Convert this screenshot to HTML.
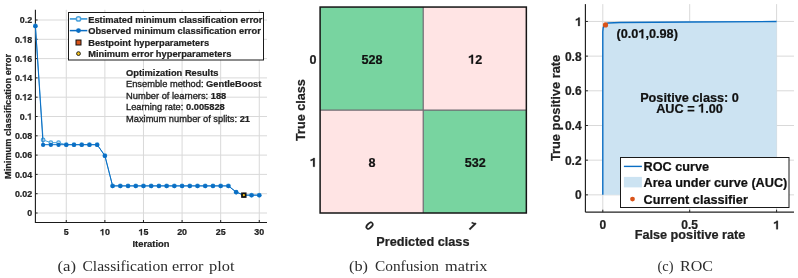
<!DOCTYPE html>
<html><head><meta charset="utf-8"><style>
html,body{margin:0;padding:0;background:#fff;}
svg{display:block;}
</style></head><body>
<svg width="798" height="278" viewBox="0 0 798 278">
<rect width="798" height="278" fill="#fff"/>
<defs><filter id="bl" x="0" y="0" width="100%" height="100%" color-interpolation-filters="sRGB"><feGaussianBlur stdDeviation="0.4"/></filter></defs>
<g filter="url(#bl)">
<rect width="798" height="278" fill="#fff"/>
<line x1="66.28" y1="9.8" x2="66.28" y2="222.5" stroke="#d9d9d9" stroke-width="1"/>
<line x1="104.88" y1="9.8" x2="104.88" y2="222.5" stroke="#d9d9d9" stroke-width="1"/>
<line x1="143.48" y1="9.8" x2="143.48" y2="222.5" stroke="#d9d9d9" stroke-width="1"/>
<line x1="182.08" y1="9.8" x2="182.08" y2="222.5" stroke="#d9d9d9" stroke-width="1"/>
<line x1="220.68" y1="9.8" x2="220.68" y2="222.5" stroke="#d9d9d9" stroke-width="1"/>
<line x1="259.28" y1="9.8" x2="259.28" y2="222.5" stroke="#d9d9d9" stroke-width="1"/>
<line x1="35.1" y1="213.00" x2="267.0" y2="213.00" stroke="#d9d9d9" stroke-width="1"/>
<line x1="35.1" y1="193.70" x2="267.0" y2="193.70" stroke="#d9d9d9" stroke-width="1"/>
<line x1="35.1" y1="174.40" x2="267.0" y2="174.40" stroke="#d9d9d9" stroke-width="1"/>
<line x1="35.1" y1="155.10" x2="267.0" y2="155.10" stroke="#d9d9d9" stroke-width="1"/>
<line x1="35.1" y1="135.80" x2="267.0" y2="135.80" stroke="#d9d9d9" stroke-width="1"/>
<line x1="35.1" y1="116.50" x2="267.0" y2="116.50" stroke="#d9d9d9" stroke-width="1"/>
<line x1="35.1" y1="97.20" x2="267.0" y2="97.20" stroke="#d9d9d9" stroke-width="1"/>
<line x1="35.1" y1="77.90" x2="267.0" y2="77.90" stroke="#d9d9d9" stroke-width="1"/>
<line x1="35.1" y1="58.60" x2="267.0" y2="58.60" stroke="#d9d9d9" stroke-width="1"/>
<line x1="35.1" y1="39.30" x2="267.0" y2="39.30" stroke="#d9d9d9" stroke-width="1"/>
<line x1="35.1" y1="20.00" x2="267.0" y2="20.00" stroke="#d9d9d9" stroke-width="1"/>
<line x1="35.4" y1="9.8" x2="35.4" y2="223.05" stroke="#1a1a1a" stroke-width="1.1"/>
<line x1="35.4" y1="222.5" x2="267.0" y2="222.5" stroke="#1a1a1a" stroke-width="1.1"/>
<line x1="66.28" y1="222.5" x2="66.28" y2="220.0" stroke="#222222" stroke-width="1"/>
<text stroke="#222222" stroke-width="0.22" x="63.81" y="235.30" font-family="Liberation Sans, sans-serif" font-weight="bold" font-size="8.9" fill="#222222" >5</text>
<line x1="104.88" y1="222.5" x2="104.88" y2="220.0" stroke="#222222" stroke-width="1"/>
<path d="M103.37,235.30 L103.37,229.02 L102.39,229.02 C102.17,229.50 101.53,229.94 100.43,230.21 L100.43,231.25 C101.18,231.07 101.71,230.81 102.16,230.45 L102.16,235.30 Z" fill="#222222" stroke="#222222" stroke-width="0.22"/>
<text stroke="#222222" stroke-width="0.22" x="104.88" y="235.30" font-family="Liberation Sans, sans-serif" font-weight="bold" font-size="8.9" fill="#222222" >0</text>
<line x1="143.48" y1="222.5" x2="143.48" y2="220.0" stroke="#222222" stroke-width="1"/>
<path d="M141.97,235.30 L141.97,229.02 L140.99,229.02 C140.77,229.50 140.13,229.94 139.03,230.21 L139.03,231.25 C139.78,231.07 140.31,230.81 140.76,230.45 L140.76,235.30 Z" fill="#222222" stroke="#222222" stroke-width="0.22"/>
<text stroke="#222222" stroke-width="0.22" x="143.48" y="235.30" font-family="Liberation Sans, sans-serif" font-weight="bold" font-size="8.9" fill="#222222" >5</text>
<line x1="182.08" y1="222.5" x2="182.08" y2="220.0" stroke="#222222" stroke-width="1"/>
<text stroke="#222222" stroke-width="0.22" x="177.13" y="235.30" font-family="Liberation Sans, sans-serif" font-weight="bold" font-size="8.9" fill="#222222" >20</text>
<line x1="220.68" y1="222.5" x2="220.68" y2="220.0" stroke="#222222" stroke-width="1"/>
<text stroke="#222222" stroke-width="0.22" x="215.73" y="235.30" font-family="Liberation Sans, sans-serif" font-weight="bold" font-size="8.9" fill="#222222" >25</text>
<line x1="259.28" y1="222.5" x2="259.28" y2="220.0" stroke="#222222" stroke-width="1"/>
<text stroke="#222222" stroke-width="0.22" x="254.33" y="235.30" font-family="Liberation Sans, sans-serif" font-weight="bold" font-size="8.9" fill="#222222" >30</text>
<line x1="35.1" y1="213.00" x2="37.6" y2="213.00" stroke="#222222" stroke-width="1"/>
<text stroke="#222222" stroke-width="0.22" x="27.25" y="216.20" font-family="Liberation Sans, sans-serif" font-weight="bold" font-size="8.9" fill="#222222" >0</text>
<line x1="35.1" y1="193.70" x2="37.6" y2="193.70" stroke="#222222" stroke-width="1"/>
<text stroke="#222222" stroke-width="0.22" x="14.88" y="196.90" font-family="Liberation Sans, sans-serif" font-weight="bold" font-size="8.9" fill="#222222" >0.02</text>
<line x1="35.1" y1="174.40" x2="37.6" y2="174.40" stroke="#222222" stroke-width="1"/>
<text stroke="#222222" stroke-width="0.22" x="14.88" y="177.60" font-family="Liberation Sans, sans-serif" font-weight="bold" font-size="8.9" fill="#222222" >0.04</text>
<line x1="35.1" y1="155.10" x2="37.6" y2="155.10" stroke="#222222" stroke-width="1"/>
<text stroke="#222222" stroke-width="0.22" x="14.88" y="158.30" font-family="Liberation Sans, sans-serif" font-weight="bold" font-size="8.9" fill="#222222" >0.06</text>
<line x1="35.1" y1="135.80" x2="37.6" y2="135.80" stroke="#222222" stroke-width="1"/>
<text stroke="#222222" stroke-width="0.22" x="14.88" y="139.00" font-family="Liberation Sans, sans-serif" font-weight="bold" font-size="8.9" fill="#222222" >0.08</text>
<line x1="35.1" y1="116.50" x2="37.6" y2="116.50" stroke="#222222" stroke-width="1"/>
<text stroke="#222222" stroke-width="0.22" x="19.83" y="119.70" font-family="Liberation Sans, sans-serif" font-weight="bold" font-size="8.9" fill="#222222" >0.</text>
<path d="M30.69,119.70 L30.69,113.42 L29.71,113.42 C29.49,113.90 28.85,114.34 27.75,114.61 L27.75,115.65 C28.50,115.47 29.03,115.21 29.48,114.85 L29.48,119.70 Z" fill="#222222" stroke="#222222" stroke-width="0.22"/>
<line x1="35.1" y1="97.20" x2="37.6" y2="97.20" stroke="#222222" stroke-width="1"/>
<text stroke="#222222" stroke-width="0.22" x="14.88" y="100.40" font-family="Liberation Sans, sans-serif" font-weight="bold" font-size="8.9" fill="#222222" >0.</text>
<path d="M25.74,100.40 L25.74,94.12 L24.76,94.12 C24.54,94.60 23.90,95.04 22.80,95.31 L22.80,96.35 C23.55,96.17 24.08,95.91 24.53,95.55 L24.53,100.40 Z" fill="#222222" stroke="#222222" stroke-width="0.22"/>
<text stroke="#222222" stroke-width="0.22" x="27.25" y="100.40" font-family="Liberation Sans, sans-serif" font-weight="bold" font-size="8.9" fill="#222222" >2</text>
<line x1="35.1" y1="77.90" x2="37.6" y2="77.90" stroke="#222222" stroke-width="1"/>
<text stroke="#222222" stroke-width="0.22" x="14.88" y="81.10" font-family="Liberation Sans, sans-serif" font-weight="bold" font-size="8.9" fill="#222222" >0.</text>
<path d="M25.74,81.10 L25.74,74.82 L24.76,74.82 C24.54,75.30 23.90,75.74 22.80,76.01 L22.80,77.05 C23.55,76.87 24.08,76.61 24.53,76.25 L24.53,81.10 Z" fill="#222222" stroke="#222222" stroke-width="0.22"/>
<text stroke="#222222" stroke-width="0.22" x="27.25" y="81.10" font-family="Liberation Sans, sans-serif" font-weight="bold" font-size="8.9" fill="#222222" >4</text>
<line x1="35.1" y1="58.60" x2="37.6" y2="58.60" stroke="#222222" stroke-width="1"/>
<text stroke="#222222" stroke-width="0.22" x="14.88" y="61.80" font-family="Liberation Sans, sans-serif" font-weight="bold" font-size="8.9" fill="#222222" >0.</text>
<path d="M25.74,61.80 L25.74,55.52 L24.76,55.52 C24.54,56.00 23.90,56.44 22.80,56.71 L22.80,57.75 C23.55,57.57 24.08,57.31 24.53,56.95 L24.53,61.80 Z" fill="#222222" stroke="#222222" stroke-width="0.22"/>
<text stroke="#222222" stroke-width="0.22" x="27.25" y="61.80" font-family="Liberation Sans, sans-serif" font-weight="bold" font-size="8.9" fill="#222222" >6</text>
<line x1="35.1" y1="39.30" x2="37.6" y2="39.30" stroke="#222222" stroke-width="1"/>
<text stroke="#222222" stroke-width="0.22" x="14.88" y="42.50" font-family="Liberation Sans, sans-serif" font-weight="bold" font-size="8.9" fill="#222222" >0.</text>
<path d="M25.74,42.50 L25.74,36.22 L24.76,36.22 C24.54,36.70 23.90,37.14 22.80,37.41 L22.80,38.45 C23.55,38.27 24.08,38.01 24.53,37.65 L24.53,42.50 Z" fill="#222222" stroke="#222222" stroke-width="0.22"/>
<text stroke="#222222" stroke-width="0.22" x="27.25" y="42.50" font-family="Liberation Sans, sans-serif" font-weight="bold" font-size="8.9" fill="#222222" >8</text>
<line x1="35.1" y1="20.00" x2="37.6" y2="20.00" stroke="#222222" stroke-width="1"/>
<text stroke="#222222" stroke-width="0.22" x="19.83" y="23.20" font-family="Liberation Sans, sans-serif" font-weight="bold" font-size="8.9" fill="#222222" >0.2</text>
<text stroke="#222222" stroke-width="0.22" x="151" y="246.7" font-family="Liberation Sans, sans-serif" font-weight="bold" font-size="9.4" fill="#222222" text-anchor="middle">Iteration</text>
<text stroke="#222222" stroke-width="0.22" transform="translate(11.3,116.4) rotate(-90)" x="0" y="0" font-family="Liberation Sans, sans-serif" font-weight="bold" font-size="9.2" fill="#222222" text-anchor="middle">Minimum classification error</text>
<text stroke="#222222" stroke-width="0.22" x="126.0" y="75.6" font-family="Liberation Sans, sans-serif" font-weight="bold" font-size="9.3" fill="#222222">Optimization Results</text>
<text stroke="#222222" stroke-width="0.32" x="126.0" y="87.2" font-family="Liberation Sans, sans-serif" font-size="9.3" fill="#222222">Ensemble method: <tspan font-weight="bold" stroke-width="0.22">GentleBoost</tspan></text>
<text stroke="#222222" stroke-width="0.32" x="126.0" y="98.7" font-family="Liberation Sans, sans-serif" font-size="9.3" fill="#222222">Number of learners: <tspan font-weight="bold" stroke-width="0.22">188</tspan></text>
<text stroke="#222222" stroke-width="0.32" x="126.0" y="110.3" font-family="Liberation Sans, sans-serif" font-size="9.3" fill="#222222">Learning rate: <tspan font-weight="bold" stroke-width="0.22">0.005828</tspan></text>
<text stroke="#222222" stroke-width="0.32" x="126.0" y="121.9" font-family="Liberation Sans, sans-serif" font-size="9.3" fill="#222222">Maximum number of splits: <tspan font-weight="bold" stroke-width="0.22">21</tspan></text>
<polyline points="35.40,25.98 43.12,139.95 50.84,142.65 58.56,142.65 66.28,144.68 74.00,144.68 81.72,144.68 89.44,144.68 97.16,144.68 104.88,155.68 112.60,185.88 120.32,185.88 128.04,185.88 135.76,185.88 143.48,185.88 151.20,185.88 158.92,185.88 166.64,185.88 174.36,185.88 182.08,185.88 189.80,185.88 197.52,185.88 205.24,185.88 212.96,185.88 220.68,185.88 228.40,185.88 236.12,192.06 243.84,195.15 251.56,195.15 259.28,195.15" fill="none" stroke="#4DA3DC" stroke-width="1"/>
<circle cx="35.40" cy="25.98" r="1.8" fill="#d4e9f8" stroke="#4DA3DC" stroke-width="1.2"/>
<circle cx="43.12" cy="139.95" r="1.8" fill="#d4e9f8" stroke="#4DA3DC" stroke-width="1.2"/>
<circle cx="50.84" cy="142.65" r="1.8" fill="#d4e9f8" stroke="#4DA3DC" stroke-width="1.2"/>
<circle cx="58.56" cy="142.65" r="1.8" fill="#d4e9f8" stroke="#4DA3DC" stroke-width="1.2"/>
<circle cx="66.28" cy="144.68" r="1.8" fill="#d4e9f8" stroke="#4DA3DC" stroke-width="1.2"/>
<circle cx="74.00" cy="144.68" r="1.8" fill="#d4e9f8" stroke="#4DA3DC" stroke-width="1.2"/>
<circle cx="81.72" cy="144.68" r="1.8" fill="#d4e9f8" stroke="#4DA3DC" stroke-width="1.2"/>
<circle cx="89.44" cy="144.68" r="1.8" fill="#d4e9f8" stroke="#4DA3DC" stroke-width="1.2"/>
<circle cx="97.16" cy="144.68" r="1.8" fill="#d4e9f8" stroke="#4DA3DC" stroke-width="1.2"/>
<circle cx="104.88" cy="155.68" r="1.8" fill="#d4e9f8" stroke="#4DA3DC" stroke-width="1.2"/>
<circle cx="112.60" cy="185.88" r="1.8" fill="#d4e9f8" stroke="#4DA3DC" stroke-width="1.2"/>
<circle cx="120.32" cy="185.88" r="1.8" fill="#d4e9f8" stroke="#4DA3DC" stroke-width="1.2"/>
<circle cx="128.04" cy="185.88" r="1.8" fill="#d4e9f8" stroke="#4DA3DC" stroke-width="1.2"/>
<circle cx="135.76" cy="185.88" r="1.8" fill="#d4e9f8" stroke="#4DA3DC" stroke-width="1.2"/>
<circle cx="143.48" cy="185.88" r="1.8" fill="#d4e9f8" stroke="#4DA3DC" stroke-width="1.2"/>
<circle cx="151.20" cy="185.88" r="1.8" fill="#d4e9f8" stroke="#4DA3DC" stroke-width="1.2"/>
<circle cx="158.92" cy="185.88" r="1.8" fill="#d4e9f8" stroke="#4DA3DC" stroke-width="1.2"/>
<circle cx="166.64" cy="185.88" r="1.8" fill="#d4e9f8" stroke="#4DA3DC" stroke-width="1.2"/>
<circle cx="174.36" cy="185.88" r="1.8" fill="#d4e9f8" stroke="#4DA3DC" stroke-width="1.2"/>
<circle cx="182.08" cy="185.88" r="1.8" fill="#d4e9f8" stroke="#4DA3DC" stroke-width="1.2"/>
<circle cx="189.80" cy="185.88" r="1.8" fill="#d4e9f8" stroke="#4DA3DC" stroke-width="1.2"/>
<circle cx="197.52" cy="185.88" r="1.8" fill="#d4e9f8" stroke="#4DA3DC" stroke-width="1.2"/>
<circle cx="205.24" cy="185.88" r="1.8" fill="#d4e9f8" stroke="#4DA3DC" stroke-width="1.2"/>
<circle cx="212.96" cy="185.88" r="1.8" fill="#d4e9f8" stroke="#4DA3DC" stroke-width="1.2"/>
<circle cx="220.68" cy="185.88" r="1.8" fill="#d4e9f8" stroke="#4DA3DC" stroke-width="1.2"/>
<circle cx="228.40" cy="185.88" r="1.8" fill="#d4e9f8" stroke="#4DA3DC" stroke-width="1.2"/>
<circle cx="236.12" cy="192.06" r="1.8" fill="#d4e9f8" stroke="#4DA3DC" stroke-width="1.2"/>
<circle cx="243.84" cy="195.15" r="1.8" fill="#d4e9f8" stroke="#4DA3DC" stroke-width="1.2"/>
<circle cx="251.56" cy="195.15" r="1.8" fill="#d4e9f8" stroke="#4DA3DC" stroke-width="1.2"/>
<circle cx="259.28" cy="195.15" r="1.8" fill="#d4e9f8" stroke="#4DA3DC" stroke-width="1.2"/>
<polyline points="35.40,25.98 43.12,144.68 50.84,144.68 58.56,144.68 66.28,144.68 74.00,144.68 81.72,144.68 89.44,144.68 97.16,144.68 104.88,155.68 112.60,185.88 120.32,185.88 128.04,185.88 135.76,185.88 143.48,185.88 151.20,185.88 158.92,185.88 166.64,185.88 174.36,185.88 182.08,185.88 189.80,185.88 197.52,185.88 205.24,185.88 212.96,185.88 220.68,185.88 228.40,185.88 236.12,192.06 243.84,195.15 251.56,195.15 259.28,195.15" fill="none" stroke="#0A6EC4" stroke-width="1.0"/>
<circle cx="35.40" cy="26.18" r="2.15" fill="#0A6EC4"/>
<circle cx="43.12" cy="144.88" r="2.15" fill="#0A6EC4"/>
<circle cx="50.84" cy="144.88" r="2.15" fill="#0A6EC4"/>
<circle cx="58.56" cy="144.88" r="2.15" fill="#0A6EC4"/>
<circle cx="66.28" cy="144.88" r="2.15" fill="#0A6EC4"/>
<circle cx="74.00" cy="144.88" r="2.15" fill="#0A6EC4"/>
<circle cx="81.72" cy="144.88" r="2.15" fill="#0A6EC4"/>
<circle cx="89.44" cy="144.88" r="2.15" fill="#0A6EC4"/>
<circle cx="97.16" cy="144.88" r="2.15" fill="#0A6EC4"/>
<circle cx="104.88" cy="155.88" r="2.15" fill="#0A6EC4"/>
<circle cx="112.60" cy="186.08" r="2.15" fill="#0A6EC4"/>
<circle cx="120.32" cy="186.08" r="2.15" fill="#0A6EC4"/>
<circle cx="128.04" cy="186.08" r="2.15" fill="#0A6EC4"/>
<circle cx="135.76" cy="186.08" r="2.15" fill="#0A6EC4"/>
<circle cx="143.48" cy="186.08" r="2.15" fill="#0A6EC4"/>
<circle cx="151.20" cy="186.08" r="2.15" fill="#0A6EC4"/>
<circle cx="158.92" cy="186.08" r="2.15" fill="#0A6EC4"/>
<circle cx="166.64" cy="186.08" r="2.15" fill="#0A6EC4"/>
<circle cx="174.36" cy="186.08" r="2.15" fill="#0A6EC4"/>
<circle cx="182.08" cy="186.08" r="2.15" fill="#0A6EC4"/>
<circle cx="189.80" cy="186.08" r="2.15" fill="#0A6EC4"/>
<circle cx="197.52" cy="186.08" r="2.15" fill="#0A6EC4"/>
<circle cx="205.24" cy="186.08" r="2.15" fill="#0A6EC4"/>
<circle cx="212.96" cy="186.08" r="2.15" fill="#0A6EC4"/>
<circle cx="220.68" cy="186.08" r="2.15" fill="#0A6EC4"/>
<circle cx="228.40" cy="186.08" r="2.15" fill="#0A6EC4"/>
<circle cx="236.12" cy="192.26" r="2.15" fill="#0A6EC4"/>
<circle cx="243.84" cy="195.35" r="2.15" fill="#0A6EC4"/>
<circle cx="251.56" cy="195.35" r="2.15" fill="#0A6EC4"/>
<circle cx="259.28" cy="195.35" r="2.15" fill="#0A6EC4"/>
<rect x="241.14" y="192.45" width="5.4" height="5.4" fill="#111"/>
<circle cx="243.84" cy="195.15" r="1.1" fill="#F2C01E"/>
<rect x="68.5" y="12.5" width="195" height="47.5" fill="white" stroke="#1a1a1a" stroke-width="1"/>
<line x1="69.8" y1="18.9" x2="87.3" y2="18.9" stroke="#4DA3DC" stroke-width="1.8"/>
<circle cx="78.5" cy="18.9" r="2.2" fill="#e6f3fc" stroke="#4DA3DC" stroke-width="1.5"/>
<line x1="69.8" y1="30.6" x2="87.3" y2="30.6" stroke="#0A6EC4" stroke-width="1.5"/>
<circle cx="78.5" cy="30.6" r="2.4" fill="#0A6EC4"/>
<rect x="76" y="40.0" width="5" height="5" fill="#D95319" stroke="#111" stroke-width="1"/>
<circle cx="78.5" cy="53.6" r="1.9" fill="#F2C01E" stroke="#111" stroke-width="0.9"/>
<text stroke="#222222" stroke-width="0.22" x="88.2" y="22.599999999999998" font-family="Liberation Sans, sans-serif" font-weight="bold" font-size="9.3" fill="#222222">Estimated minimum classification error</text>
<text stroke="#222222" stroke-width="0.22" x="88.2" y="33.9" font-family="Liberation Sans, sans-serif" font-weight="bold" font-size="9.3" fill="#222222">Observed minimum classification error</text>
<text stroke="#222222" stroke-width="0.22" x="88.2" y="45.8" font-family="Liberation Sans, sans-serif" font-weight="bold" font-size="9.3" fill="#222222">Bestpoint hyperparameters</text>
<text stroke="#222222" stroke-width="0.22" x="88.2" y="56.9" font-family="Liberation Sans, sans-serif" font-weight="bold" font-size="9.3" fill="#222222">Minimum error hyperparameters</text>
<rect x="320.1" y="7.05" width="103.125" height="102.975" fill="#78D4A0"/>
<rect x="423.225" y="7.05" width="103.125" height="102.975" fill="#FFE4E4"/>
<rect x="320.1" y="110.02499999999999" width="103.125" height="102.975" fill="#FFE4E4"/>
<rect x="423.225" y="110.02499999999999" width="103.125" height="102.975" fill="#78D4A0"/>
<line x1="423.225" y1="7.05" x2="423.225" y2="213.0" stroke="#6e6a70" stroke-width="1.2"/>
<line x1="320.1" y1="110.02499999999999" x2="526.35" y2="110.02499999999999" stroke="#6e6a70" stroke-width="1.2"/>
<rect x="320.1" y="7.05" width="206.25" height="205.95" fill="none" stroke="#151515" stroke-width="1.5"/>
<path d="M473.06,63.64 L473.06,54.74 L471.66,54.74 C471.36,55.42 470.45,56.05 468.89,56.43 L468.89,57.90 C469.94,57.65 470.70,57.27 471.33,56.77 L471.33,63.64 Z" fill="#111" stroke="#111" stroke-width="0.22"/>
<text stroke="#111" stroke-width="0.22" x="475.19" y="63.64" font-family="Liberation Sans, sans-serif" font-weight="bold" font-size="12.6" fill="#111" >2</text>
<text stroke="#111" stroke-width="0.22" x="372.06" y="63.64" font-family="Liberation Sans, sans-serif" font-weight="bold" font-size="12.6" fill="#111" text-anchor="middle">528</text>
<text stroke="#111" stroke-width="0.22" x="372.06" y="166.61" font-family="Liberation Sans, sans-serif" font-weight="bold" font-size="12.6" fill="#111" text-anchor="middle">8</text>
<text stroke="#111" stroke-width="0.22" x="475.19" y="166.61" font-family="Liberation Sans, sans-serif" font-weight="bold" font-size="12.6" fill="#111" text-anchor="middle">532</text>
<text stroke="#222222" stroke-width="0.22" x="316.6" y="63.84" font-family="Liberation Sans, sans-serif" font-weight="bold" font-size="12.6" fill="#222222" text-anchor="end">0</text>
<path d="M314.77,166.81 L314.77,157.92 L313.37,157.92 C313.07,158.60 312.16,159.23 310.60,159.61 L310.60,161.08 C311.66,160.83 312.41,160.45 313.04,159.95 L313.04,166.81 Z" fill="#222222" stroke="#222222" stroke-width="0.22"/>
<text stroke="#222222" stroke-width="0.22" transform="translate(305.2,110.05) rotate(-90)" font-family="Liberation Sans, sans-serif" font-weight="bold" font-size="12.65" fill="#222222" text-anchor="middle">True class</text>
<text stroke="#222222" stroke-width="0.22" transform="translate(369.56,225.5) rotate(45)" x="0" y="4.4" font-family="Liberation Sans, sans-serif" font-weight="bold" font-size="12.6" fill="#222222" text-anchor="middle">0</text>
<path d="M1.37,4.40 L1.37,-4.50 L-0.03,-4.50 C-0.33,-3.82 -1.23,-3.19 -2.80,-2.81 L-2.80,-1.33 C-1.74,-1.58 -0.98,-1.96 -0.35,-2.47 L-0.35,4.40 Z" fill="#222222" stroke="#222222" stroke-width="0.22" transform="translate(472.29,226) rotate(45)"/>
<text stroke="#222222" stroke-width="0.22" x="422.9" y="246.1" font-family="Liberation Sans, sans-serif" font-weight="bold" font-size="12.7" fill="#222222" text-anchor="middle">Predicted class</text>
<line x1="602.80" y1="4.11" x2="602.80" y2="212.19" stroke="#d9d9d9" stroke-width="1"/>
<line x1="689.70" y1="4.11" x2="689.70" y2="212.19" stroke="#d9d9d9" stroke-width="1"/>
<line x1="776.60" y1="4.11" x2="776.60" y2="212.19" stroke="#d9d9d9" stroke-width="1"/>
<line x1="585.42" y1="194.85" x2="793.98" y2="194.85" stroke="#d9d9d9" stroke-width="1"/>
<line x1="585.42" y1="160.17" x2="793.98" y2="160.17" stroke="#d9d9d9" stroke-width="1"/>
<line x1="585.42" y1="125.49" x2="793.98" y2="125.49" stroke="#d9d9d9" stroke-width="1"/>
<line x1="585.42" y1="90.81" x2="793.98" y2="90.81" stroke="#d9d9d9" stroke-width="1"/>
<line x1="585.42" y1="56.13" x2="793.98" y2="56.13" stroke="#d9d9d9" stroke-width="1"/>
<line x1="585.42" y1="21.45" x2="793.98" y2="21.45" stroke="#d9d9d9" stroke-width="1"/>
<polygon points="602.80,194.85 602.80,194.85 602.80,31.85 603.15,28.04 603.84,25.61 605.41,23.88 608.01,23.01 620.18,22.49 689.70,21.97 776.60,21.54 776.60,194.85" fill="rgb(204,227,242)"/>
<polyline points="602.80,194.85 602.80,31.85 603.15,28.04 603.84,25.61 605.41,23.88 608.01,23.01 620.18,22.49 689.70,21.97 776.60,21.54" fill="none" stroke="#0A6EC4" stroke-width="1.4" stroke-linejoin="round"/>
<circle cx="605.5" cy="24.92" r="2.6" fill="#D95319"/>
<line x1="585.42" y1="4.11" x2="585.42" y2="212.19" stroke="#222222" stroke-width="1.2"/>
<line x1="585.42" y1="212.19" x2="793.98" y2="212.19" stroke="#222222" stroke-width="1.2"/>
<line x1="602.80" y1="212.19" x2="602.80" y2="209.69" stroke="#222222" stroke-width="1"/>
<text stroke="#222222" stroke-width="0.22" x="602.80" y="229.3" font-family="Liberation Sans, sans-serif" font-weight="bold" font-size="12" fill="#222222" text-anchor="middle">0</text>
<line x1="689.70" y1="212.19" x2="689.70" y2="209.69" stroke="#222222" stroke-width="1"/>
<text stroke="#222222" stroke-width="0.22" x="689.70" y="229.3" font-family="Liberation Sans, sans-serif" font-weight="bold" font-size="12" fill="#222222" text-anchor="middle">0.5</text>
<line x1="776.60" y1="212.19" x2="776.60" y2="209.69" stroke="#222222" stroke-width="1"/>
<path d="M777.91,229.30 L777.91,220.83 L776.58,220.83 C776.29,221.48 775.42,222.08 773.94,222.44 L773.94,223.84 C774.94,223.60 775.66,223.24 776.26,222.76 L776.26,229.30 Z" fill="#222222" stroke="#222222" stroke-width="0.22"/>
<line x1="585.42" y1="194.85" x2="587.92" y2="194.85" stroke="#222222" stroke-width="1"/>
<text stroke="#222222" stroke-width="0.22" x="581.6" y="199.45" font-family="Liberation Sans, sans-serif" font-weight="bold" font-size="12" fill="#222222" text-anchor="end">0</text>
<line x1="585.42" y1="160.17" x2="587.92" y2="160.17" stroke="#222222" stroke-width="1"/>
<text stroke="#222222" stroke-width="0.22" x="581.6" y="164.77" font-family="Liberation Sans, sans-serif" font-weight="bold" font-size="12" fill="#222222" text-anchor="end">0.2</text>
<line x1="585.42" y1="125.49" x2="587.92" y2="125.49" stroke="#222222" stroke-width="1"/>
<text stroke="#222222" stroke-width="0.22" x="581.6" y="130.09" font-family="Liberation Sans, sans-serif" font-weight="bold" font-size="12" fill="#222222" text-anchor="end">0.4</text>
<line x1="585.42" y1="90.81" x2="587.92" y2="90.81" stroke="#222222" stroke-width="1"/>
<text stroke="#222222" stroke-width="0.22" x="581.6" y="95.41" font-family="Liberation Sans, sans-serif" font-weight="bold" font-size="12" fill="#222222" text-anchor="end">0.6</text>
<line x1="585.42" y1="56.13" x2="587.92" y2="56.13" stroke="#222222" stroke-width="1"/>
<text stroke="#222222" stroke-width="0.22" x="581.6" y="60.73" font-family="Liberation Sans, sans-serif" font-weight="bold" font-size="12" fill="#222222" text-anchor="end">0.8</text>
<line x1="585.42" y1="21.45" x2="587.92" y2="21.45" stroke="#222222" stroke-width="1"/>
<path d="M579.77,26.05 L579.77,17.58 L578.44,17.58 C578.15,18.23 577.29,18.83 575.80,19.19 L575.80,20.59 C576.81,20.35 577.53,19.99 578.13,19.51 L578.13,26.05 Z" fill="#222222" stroke="#222222" stroke-width="0.22"/>
<text stroke="#222222" stroke-width="0.22" x="690" y="238.7" font-family="Liberation Sans, sans-serif" font-weight="bold" font-size="12.7" fill="#222222" text-anchor="middle">False positive rate</text>
<text stroke="#222222" stroke-width="0.22" transform="translate(560,107.95) rotate(-90)" font-family="Liberation Sans, sans-serif" font-weight="bold" font-size="12.85" fill="#222222" text-anchor="middle">True positive rate</text>
<text stroke="#111" stroke-width="0.22" x="616.50" y="38.30" font-family="Liberation Sans, sans-serif" font-weight="bold" font-size="12.7" fill="#111" >(0.0</text>
<path d="M643.30,38.30 L643.30,29.33 L641.89,29.33 C641.58,30.02 640.67,30.65 639.10,31.04 L639.10,32.52 C640.16,32.27 640.92,31.89 641.56,31.38 L641.56,38.30 Z" fill="#111" stroke="#111" stroke-width="0.22"/>
<text stroke="#111" stroke-width="0.22" x="645.45" y="38.30" font-family="Liberation Sans, sans-serif" font-weight="bold" font-size="12.7" fill="#111" >,0.98)</text>
<text stroke="#111" stroke-width="0.22" x="689.5" y="101.5" font-family="Liberation Sans, sans-serif" font-weight="bold" font-size="12.7" fill="#111" text-anchor="middle">Positive class: 0</text>
<text stroke="#111" stroke-width="0.22" x="656.15" y="112.60" font-family="Liberation Sans, sans-serif" font-weight="bold" font-size="12.7" fill="#111" >AUC = </text>
<path d="M703.05,112.60 L703.05,103.63 L701.64,103.63 C701.34,104.32 700.42,104.95 698.85,105.34 L698.85,106.82 C699.91,106.57 700.68,106.19 701.31,105.68 L701.31,112.60 Z" fill="#111" stroke="#111" stroke-width="0.22"/>
<text stroke="#111" stroke-width="0.22" x="705.20" y="112.60" font-family="Liberation Sans, sans-serif" font-weight="bold" font-size="12.7" fill="#111" >.00</text>
<rect x="620.5" y="157.5" width="168.5" height="50" fill="white" stroke="#1a1a1a" stroke-width="1"/>
<line x1="623.9" y1="166.4" x2="641.9" y2="166.4" stroke="#0A6EC4" stroke-width="1.4"/>
<rect x="623.9" y="176.9" width="18" height="10.5" fill="rgb(204,227,242)"/>
<circle cx="632.5" cy="199.1" r="2.4" fill="#D95319"/>
<text stroke="#111" stroke-width="0.22" x="643.5" y="170.80" font-family="Liberation Sans, sans-serif" font-weight="bold" font-size="12.7" fill="#111">ROC curve</text>
<text stroke="#111" stroke-width="0.22" x="643.5" y="187.00" font-family="Liberation Sans, sans-serif" font-weight="bold" font-size="12.7" fill="#111">Area under curve (AUC)</text>
<text stroke="#111" stroke-width="0.22" x="643.5" y="203.50" font-family="Liberation Sans, sans-serif" font-weight="bold" font-size="12.7" fill="#111">Current classifier</text>
<text x="57.499999999999986" y="270.8" font-family="Liberation Serif, serif" font-size="14.2" fill="#2c2c2c" textLength="18.499999999999986" lengthAdjust="spacingAndGlyphs">(a)</text>
<text x="82.49999999999999" y="270.8" font-family="Liberation Serif, serif" font-size="14.2" fill="#2c2c2c" textLength="85.50000000000001" lengthAdjust="spacingAndGlyphs">Classification</text>
<text x="171.99999999999997" y="270.8" font-family="Liberation Serif, serif" font-size="14.2" fill="#2c2c2c" textLength="31.5" lengthAdjust="spacingAndGlyphs">error</text>
<text x="209.0" y="270.8" font-family="Liberation Serif, serif" font-size="14.2" fill="#2c2c2c" textLength="25.5" lengthAdjust="spacingAndGlyphs">plot</text>
<text x="348.9999999999999" y="270.8" font-family="Liberation Serif, serif" font-size="14.2" fill="#2c2c2c" textLength="19.0" lengthAdjust="spacingAndGlyphs">(b)</text>
<text x="375.00000000000006" y="270.8" font-family="Liberation Serif, serif" font-size="14.2" fill="#2c2c2c" textLength="63.99999999999983" lengthAdjust="spacingAndGlyphs">Confusion</text>
<text x="444.9999999999999" y="270.8" font-family="Liberation Serif, serif" font-size="14.2" fill="#2c2c2c" textLength="42.500000000000114" lengthAdjust="spacingAndGlyphs">matrix</text>
<text x="657.5" y="270.8" font-family="Liberation Serif, serif" font-size="14.2" fill="#2c2c2c" textLength="15.999999999999886" lengthAdjust="spacingAndGlyphs">(c)</text>
<text x="679.9999999999999" y="270.8" font-family="Liberation Serif, serif" font-size="14.2" fill="#2c2c2c" textLength="33.0" lengthAdjust="spacingAndGlyphs">ROC</text>
</g>
</svg>
</body></html>
